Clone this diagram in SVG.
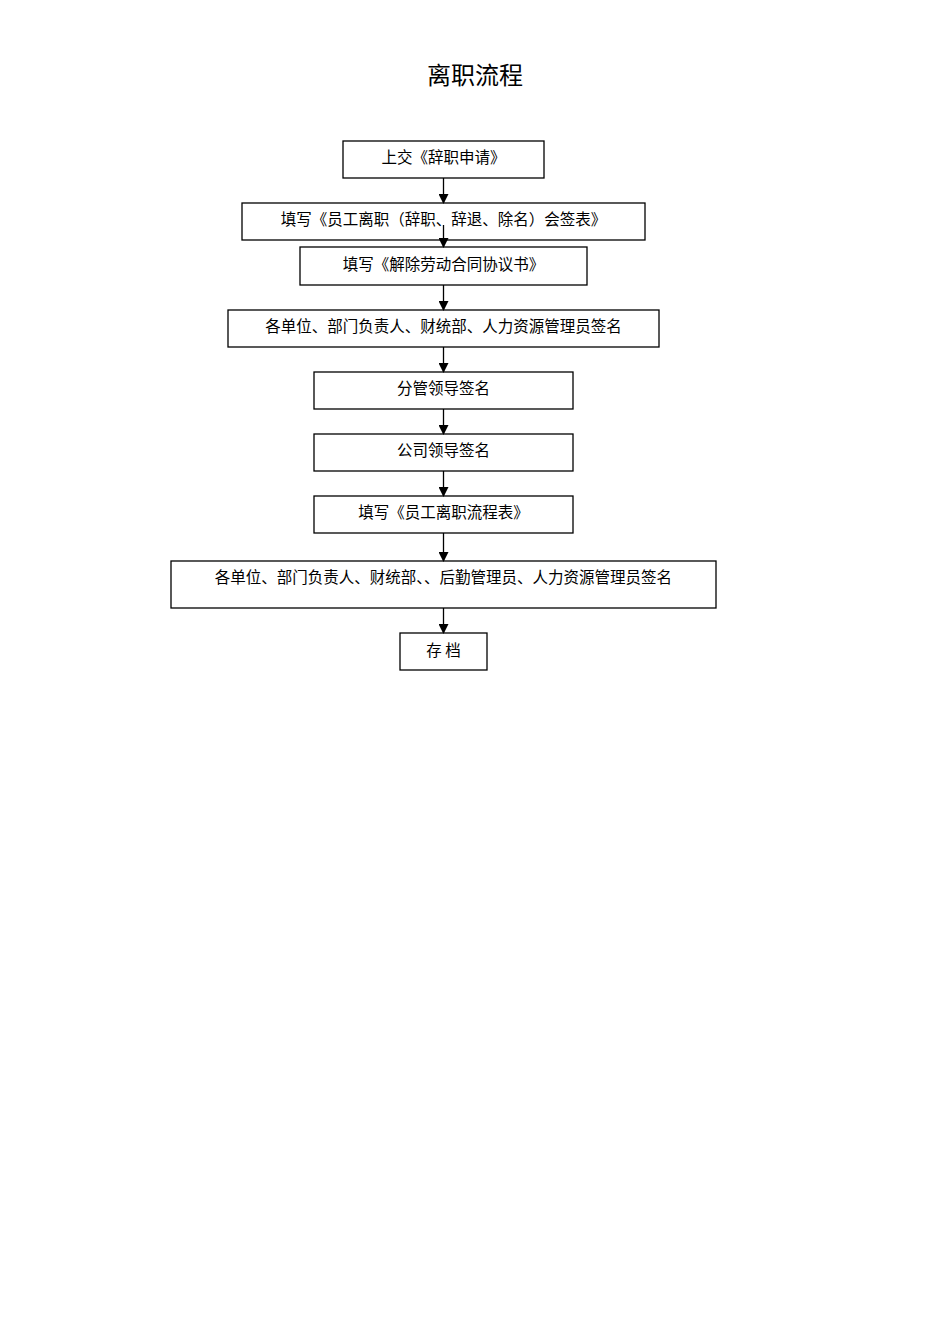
<svg xmlns="http://www.w3.org/2000/svg" width="950" height="1344" viewBox="0 0 950 1344">
<style>
rect{fill:#fff;stroke:#000;stroke-width:1.3}
text{font-family:"Noto Sans CJK SC",sans-serif;font-size:15.5px;text-anchor:middle;fill:#000}
.t{font-size:24px}
line{stroke:#000;stroke-width:1.3}
</style>
<defs><marker id="a" markerWidth="10" markerHeight="10" refX="9" refY="5" orient="auto" markerUnits="userSpaceOnUse"><path d="M0,0L10,5L0,10z" fill="#000"/></marker></defs>
<rect x="0" y="0" width="950" height="1344" style="stroke:none"/>
<text class="t" x="475" y="84">离职流程</text>
<g id="n1"><rect x="343" y="141" width="201" height="37"/><text x="443.5" y="163">上交《辞职申请》</text></g>
<g id="n2"><rect x="242" y="203" width="403" height="37"/><text x="443.5" y="225">填写《员工离职（辞职、辞退、除名）会签表》</text></g>
<g id="n3"><rect x="300" y="247" width="287" height="38"/><text x="443.5" y="270">填写《解除劳动合同协议书》</text></g>
<g id="n4"><rect x="228" y="310" width="431" height="37"/><text x="443.5" y="332">各单位、部门负责人、财统部、人力资源管理员签名</text></g>
<g id="n5"><rect x="314" y="372" width="259" height="37"/><text x="443.5" y="394">分管领导签名</text></g>
<g id="n6"><rect x="314" y="434" width="259" height="37"/><text x="443.5" y="456">公司领导签名</text></g>
<g id="n7"><rect x="314" y="496" width="259" height="37"/><text x="443.5" y="518">填写《员工离职流程表》</text></g>
<g id="n8"><rect x="171" y="561" width="545" height="47"/><text x="443.5" y="583">各单位、部门负责人、财统部、、后勤管理员、人力资源管理员签名</text></g>
<g id="n9"><rect x="400" y="633" width="87" height="37"/><text x="443.5" y="656">存  档</text></g>
<g id="edges">
<line x1="443.5" y1="178" x2="443.5" y2="203" marker-end="url(#a)"/>
<line x1="443.5" y1="225" x2="443.5" y2="247" marker-end="url(#a)"/>
<line x1="443.5" y1="285" x2="443.5" y2="310" marker-end="url(#a)"/>
<line x1="443.5" y1="347" x2="443.5" y2="372" marker-end="url(#a)"/>
<line x1="443.5" y1="409" x2="443.5" y2="434" marker-end="url(#a)"/>
<line x1="443.5" y1="471" x2="443.5" y2="496" marker-end="url(#a)"/>
<line x1="443.5" y1="533" x2="443.5" y2="561" marker-end="url(#a)"/>
<line x1="443.5" y1="608" x2="443.5" y2="633" marker-end="url(#a)"/>
</g>
</svg>
